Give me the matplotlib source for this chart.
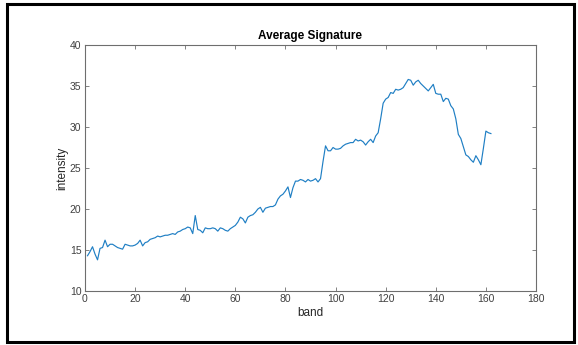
import matplotlib.pyplot as plt
from matplotlib.patches import Rectangle

# ========= data =========
bands = list(range(1, 163))
intensity = [
    14.3, 14.8, 15.4, 14.5, 13.8, 15.2, 15.3, 16.2, 15.4, 15.7,
    15.7, 15.5, 15.3, 15.2, 15.1, 15.7, 15.6, 15.5, 15.5, 15.6,
    15.8, 16.2, 15.5, 15.9, 16.0, 16.3, 16.4, 16.5, 16.7, 16.6,
    16.7, 16.8, 16.8, 16.9, 17.0, 16.9, 17.2, 17.3, 17.5, 17.6,
    17.8, 17.7, 17.0, 19.2, 17.5, 17.4, 17.1, 17.7, 17.6, 17.6,
    17.7, 17.6, 17.3, 17.7, 17.6, 17.4, 17.3, 17.6, 17.8, 18.0,
    18.4, 19.0, 18.8, 18.3, 19.0, 19.2, 19.3, 19.6, 20.0, 20.2,
    19.6, 20.1, 20.2, 20.3, 20.3, 20.5, 21.2, 21.6, 21.8, 22.2,
    22.7, 21.4, 22.6, 23.4, 23.4, 23.6, 23.5, 23.3, 23.6, 23.4,
    23.5, 23.7, 23.3, 23.7, 25.8, 27.7, 27.1, 27.1, 27.5, 27.3,
    27.3, 27.4, 27.7, 27.9, 28.0, 28.1, 28.1, 28.5, 28.3, 28.4,
    28.2, 27.8, 28.2, 28.5, 28.1, 28.9, 29.3, 31.0, 32.9, 33.4,
    33.6, 34.2, 34.1, 34.6, 34.5, 34.6, 34.8, 35.3, 35.8, 35.7,
    35.1, 35.5, 35.7, 35.3, 35.0, 34.7, 34.4, 34.8, 35.2, 34.1,
    34.0, 34.0, 33.1, 33.5, 33.4, 32.6, 32.2, 31.0, 29.1, 28.6,
    27.6, 26.6, 26.4, 26.0, 25.7, 26.5, 26.0, 25.4, 27.4, 29.5,
    29.3, 29.2,
]
xticks = list(range(0, 181, 20))
yticks = list(range(10, 41, 5))

plt.rcParams["font.family"] = ["Liberation Sans", "DejaVu Sans"]

W, H = 578, 345
fig = plt.figure(figsize=(W / 100, H / 100), dpi=100)

# black frame round the whole figure
fig.patches.append(Rectangle((7 / W, 3 / H), (574 - 7) / W, (341 - 3) / H,
                             transform=fig.transFigure, fill=False,
                             edgecolor="black", linewidth=2.2))

ax = fig.add_axes([85 / W, 1 - 291 / H, (536 - 85) / W, (291 - 45) / H])
ax.plot(bands, intensity, color="#1f7fc4", linewidth=0.85)

ax.set_xlim(0, 180)
ax.set_ylim(10, 40)
ax.set_xticks(xticks)
ax.set_yticks(yticks)

for s in ax.spines.values():
    s.set_color("#6e6e6e")
    s.set_linewidth(0.8)
ax.tick_params(direction="in", top=True, right=True, length=3, width=0.6,
               color="#6e6e6e", labelsize=7.5, labelcolor="#404040", pad=2.5)

ax.set_title("Average Signature", fontsize=8.5, fontweight="bold", color="black", pad=4)
ax.set_xlabel("band", fontsize=8.5, color="#262626", labelpad=2)
ax.set_ylabel("intensity", fontsize=8.5, color="#262626", labelpad=1)

fig.savefig("out.png", dpi=100)
